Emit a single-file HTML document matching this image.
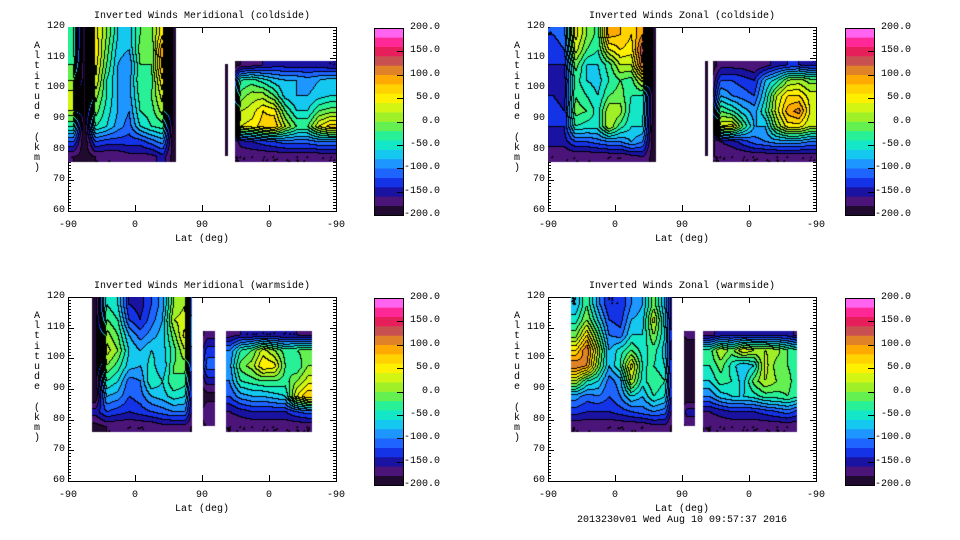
<!DOCTYPE html>
<html><head><meta charset="utf-8"><style>
body{margin:0;background:#fff;width:960px;height:540px;overflow:hidden;position:relative;font-family:"Liberation Mono",monospace;font-size:10px;color:#000}
canvas{position:absolute}
svg{position:absolute;left:0;top:0}
.t{position:absolute;white-space:nowrap}
.yt{position:absolute;width:10px;text-align:center;line-height:10.2px;font-size:10px}
</style></head><body>
<svg id="ax" width="960" height="540"></svg>
<script>
const _=null;
const E=[_,_,_,_,_,_,_,_,_];
const latTicks=["-90","0","90","0","-90"];
const latTickPos=[0,90,180,270,360];
const altTicks=[60,70,80,90,100,110,120];
const cbValues=[200,150,100,50,0,-50,-100,-150,-200];
const cbLabels=["200.0","150.0","100.0","50.0","0.0","-50.0","-100.0","-150.0","-200.0"];
const bandColors=["#200a30","#4a1478","#1a12a0","#1432e6","#1e64ff","#1e96ff","#14c8f0","#14e6c8","#28f096","#64f050","#a0f028","#d2f514","#fff000","#ffd200","#ffaa00","#e08228","#c85050","#e61e5a","#ff2896","#ff64f0"];
// data coverage segments: [orbitStart, orbitEnd, altBottom, altTop]
const meridColdSegs=[[0,145,76,120],[211,215,78,108],[225,360,76,109]];
const zonalColdSegs=[[0,145,76,120],[211,215,78,109],[222,360,76,109]];
const meridWarmSegs=[[32,167,76,120],[181,197,78,109],[212,328,76,109]];
const zonalWarmSegs=[[31,167,76,120],[183,197,78,109],[208,335,76,109]];
// columns: 24 bins of 15 (orbit coord), rows: altitude 75-80 ... 115-120
const meridColdCols=[
[-180,-120,-40,20,30,0,-20,-30,-30],[-190,-200,-200,-200,-200,-200,-200,-200,-200],
[-180,-120,-40,-10,10,40,50,60,50],[-180,-130,-60,-50,-40,-40,-20,-10,0],
[-180,-130,-90,-80,-80,-80,-80,-70,-60],[-170,-130,-110,-100,-90,-90,-100,-80,-70],
[-170,-130,-60,-40,-30,-20,-20,-10,-20],[-170,-110,-40,-30,-20,-30,-20,-20,-10],
[-150,-90,-30,10,30,60,90,100,60],[-190,-200,-200,-200,-200,-200,-200,-200,-200],
E,E,E,E,[_,-200,-200,-200,-200,-200,-200,_,_],
[-180,-150,40,20,-10,-40,-180,_,_],[-180,-140,50,30,10,-30,-170,_,_],
[-180,-130,70,60,10,-50,-160,_,_],[-180,-120,80,50,-20,-70,-150,_,_],
[-180,-110,20,-20,-70,-80,-150,_,_],[-180,-110,-20,-60,-80,-80,-150,_,_],
[-180,-110,-20,-60,-80,-90,-150,_,_],[-180,-100,40,-20,-70,-80,-150,_,_],
[-180,-100,70,-10,-60,-70,-160,_,_]];
const zonalColdCols=[
[-180,-150,-140,-130,-140,-150,-140,-130,-120],[-180,-150,-140,-140,-150,-150,-140,-120,-110],
[-180,-120,-40,-10,-20,-30,-10,30,50],[-180,-120,-50,-20,-40,-60,-60,-20,0],
[-180,-110,-50,-50,-60,-70,-60,-40,-30],[-180,-100,20,20,-20,-40,-30,40,90],
[-180,-100,-30,10,-10,-20,20,60,80],[-170,-80,-60,-50,-40,-30,20,50,60],
[-160,-100,-60,-50,-40,30,120,140,100],[-190,-200,-200,-200,-200,-200,-200,-200,-200],
E,E,E,E,[_,-200,-200,-200,-200,-200,-200,_,_],
[-180,-160,40,-20,-80,-120,-170,_,_],[-180,-150,50,-40,-100,-120,-170,_,_],
[-180,-130,-20,-70,-110,-130,-170,_,_],[-180,-110,-80,-90,-120,-140,-180,_,_],
[-180,-100,-80,-40,-60,-80,-170,_,_],[-180,-90,0,30,20,-50,-150,_,_],
[-180,-90,50,90,60,0,-140,_,_],[-180,-90,50,110,60,10,-140,_,_],
[-180,-100,20,40,30,-10,-150,_,_]];
const meridWarmCols=[
E,E,[-190,-150,-200,-200,-200,-200,-200,-200,-200],
[-180,-120,-80,-40,0,30,10,-20,-40],[-180,-130,-90,-60,-30,0,-20,-40,-60],
[-180,-140,-120,-110,-70,-60,-80,-120,-140],[-180,-130,-110,-100,-80,-80,-110,-140,-150],
[-180,-120,-80,-40,-50,-60,-90,-110,-120],[-170,-110,-70,-60,-80,-70,-70,-80,-90],
[-170,-100,-50,-20,-20,-30,-10,20,0],[-170,-100,-60,-30,-10,20,50,30,20],
[-190,-200,-200,-200,-200,-200,-200,-200,-200],[-180,-160,-190,-150,-110,-130,-170,_,_],
E,[-180,-160,-120,-100,-90,-100,-170,_,_],
[-180,-150,-90,-40,-10,-40,-160,_,_],[-180,-140,-80,-30,10,-20,-160,_,_],
[-180,-140,-80,-20,60,30,-160,_,_],[-180,-140,-70,-20,50,0,-160,_,_],
[-180,-140,-60,-30,-20,-30,-160,_,_],[-180,-120,40,0,-40,-20,-160,_,_],
[-180,-110,80,30,0,-10,-170,_,_],E,E];
const zonalWarmCols=[
E,E,[-180,-130,-90,20,120,60,-10,-50,-80],
[-180,-140,-110,-40,100,120,60,0,-20],[-180,-140,-100,-60,0,20,-20,-60,-90],
[-180,-140,-120,-110,-80,-80,-100,-120,-140],[-180,-130,-100,-90,-40,-50,-110,-130,-140],
[-180,-120,-60,20,50,-20,-60,-80,-100],[-180,-110,-80,-50,-40,-50,-60,-70,-80],
[-170,-100,-40,-20,-40,-30,0,30,-10],[-170,-110,-60,-40,-60,-70,-60,-70,-80],
[-190,-200,-200,-200,-200,-200,-200,-200,-200],[-180,-150,-200,-200,-200,-200,-170,_,_],
E,[-180,-160,-100,-60,-40,-30,-170,_,_],
[-180,-150,-70,-30,-10,20,-150,_,_],[-180,-140,-60,-40,-50,-10,-150,_,_],
[-180,-140,-60,-70,-80,40,-150,_,_],[-180,-140,-50,-10,-60,20,-150,_,_],
[-180,-130,-30,20,30,20,-150,_,_],[-180,-120,-30,0,-10,10,-150,_,_],
[-180,-110,-20,-10,-20,-20,-150,_,_],[-180,-130,-40,-40,-40,-40,-170,_,_],E];

const panels=[
 {x0:68,y0:27,cols:meridColdCols,segs:meridColdSegs,title:"Inverted Winds Meridional (coldside)",cb:374,name:"meridional-coldside"},
 {x0:548,y0:27,cols:zonalColdCols,segs:zonalColdSegs,title:"Inverted Winds Zonal (coldside)",cb:845,name:"zonal-coldside"},
 {x0:68,y0:297,cols:meridWarmCols,segs:meridWarmSegs,title:"Inverted Winds Meridional (warmside)",cb:374,name:"meridional-warmside"},
 {x0:548,y0:297,cols:zonalWarmCols,segs:zonalWarmSegs,title:"Inverted Winds Zonal (warmside)",cb:845,name:"zonal-warmside"}];
const W=268,H=184;
const NS="http://www.w3.org/2000/svg";
const ax=document.getElementById('ax');
function line(x1,y1,x2,y2,name){const l=document.createElementNS(NS,'line');l.setAttribute('x1',x1);l.setAttribute('y1',y1);l.setAttribute('x2',x2);l.setAttribute('y2',y2);l.setAttribute('stroke','#000');l.setAttribute('stroke-width','1');


ax.appendChild(l);}
function txt(x,y,s,align,name){const d=document.createElement('div');d.className='t';d.textContent=s;d.style.top=(y-6)+'px';
if(align==='r'){d.style.right=(960-x)+'px';}else if(align==='c'){d.style.left=x+'px';d.style.transform='translateX(-50%)';}else d.style.left=x+'px';


document.body.appendChild(d);}
function valueAt(cols,segs,t,a){
 let inside=false;
 for(const s of segs){if(t>=s[0]&&t<=s[1]&&a>=s[2]&&a<=s[3]){inside=true;break;}}
 if(!inside)return null;
 const ci=Math.max(0,Math.min(23,Math.floor(t/15))),rj=Math.max(0,Math.min(8,Math.floor((a-75)/5)));
 const fx=t/15-0.5,fy=(a-75)/5-0.5;
 const i0=Math.floor(fx),j0=Math.floor(fy),dx=fx-i0,dy=fy-j0;
 let s=0,ws=0;
 for(const [i,j,w] of [[i0,j0,(1-dx)*(1-dy)],[i0+1,j0,dx*(1-dy)],[i0,j0+1,(1-dx)*dy],[i0+1,j0+1,dx*dy]]){
  const ii=Math.max(0,Math.min(23,i)),jj=Math.max(0,Math.min(8,j));
  const v=cols[ii][jj];if(v===null)continue;s+=v*w;ws+=w;}
 if(ws>0)return s/ws;
 for(let d=1;d<24;d++){for(const k of [ci-d,ci+d]){if(k>=0&&k<24&&cols[k][rj]!==null)return cols[k][rj];}}
 return null;}
panels.forEach(p=>{
 const xS=t=>p.x0+t/360*W, yS=a=>p.y0+(120-a)/60*H;
 const c=document.createElement('canvas');c.width=W;c.height=H;c.style.left=p.x0+'px';c.style.top=p.y0+'px';
 
 
 document.body.appendChild(c);
 const ctx=c.getContext('2d');const img=ctx.createImageData(W,H);
 const band=new Int8Array(W*H).fill(-1);
 for(let py=0;py<H;py++)for(let px=0;px<W;px++){
  const t=(px+0.5)/W*360,a=120-(py+0.5)/H*60;const v=valueAt(p.cols,p.segs,t,a);
  if(v!==null)band[py*W+px]=Math.max(0,Math.min(19,Math.floor((v+200)/20)));}
 for(let py=0;py<H;py++)for(let px=0;px<W;px++){
  const b=band[py*W+px];if(b<0)continue;let col=bandColors[b];
  const r=px+1<W?band[py*W+px+1]:-1,d=py+1<H?band[(py+1)*W+px]:-1;
  if((r>=0&&r!==b)||(d>=0&&d!==b))col="#000000";
  const k=(py*W+px)*4;img.data[k]=parseInt(col.substr(1,2),16);img.data[k+1]=parseInt(col.substr(3,2),16);img.data[k+2]=parseInt(col.substr(5,2),16);img.data[k+3]=255;}
 ctx.putImageData(img,0,0);
 const r=document.createElementNS(NS,'rect');r.setAttribute('x',p.x0+0.5);r.setAttribute('y',p.y0+0.5);r.setAttribute('width',W);r.setAttribute('height',H);r.setAttribute('fill','none');r.setAttribute('stroke','#000');
 
 
 ax.appendChild(r);
 for(let a=60;a<=120;a+=1){const y=Math.round(yS(a))+0.5;const L=(a%10===0)?6:3;line(p.x0,y,p.x0+L,y,'y-tick');line(p.x0+W-L,y,p.x0+W,y,'y-tick');}
 altTicks.forEach(a=>txt(p.x0-3,yS(a),String(a),'r','y-tick-label'));
 latTicks.forEach((s,i)=>{const x=Math.round(xS(latTickPos[i]))+0.5;line(x,p.y0+H,x,p.y0+H-6,'x-tick');line(x,p.y0,x,p.y0+6,'x-tick');txt(xS(latTickPos[i]),p.y0+H+15,s,'c','x-tick-label');});
 txt(p.x0+W/2,p.y0+H+29,"Lat (deg)",'c','x-axis-title');
 txt(p.x0+W/2,p.y0-10,p.title,'c','chart-title');
 const yt=document.createElement('div');yt.className='yt';yt.style.left=(p.x0-36)+'px';yt.style.top=(p.y0+15)+'px';
 yt.innerHTML="Altitude (km)".split('').map(ch=>ch===' '?'&nbsp;':ch).join('<br>');
 
 
 document.body.appendChild(yt);
 const cy0=p.y0+1,ch=187,bh=ch/20;
 bandColors.forEach((col,i)=>{const b=document.createElementNS(NS,'rect');b.setAttribute('x',p.cb);b.setAttribute('y',(cy0+ch-(i+1)*bh).toFixed(2));b.setAttribute('width',29);b.setAttribute('height',(bh+0.3).toFixed(2));b.setAttribute('fill',col);
 
 
 ax.appendChild(b);});
 const cr=document.createElementNS(NS,'rect');cr.setAttribute('x',p.cb+0.5);cr.setAttribute('y',cy0+0.5);cr.setAttribute('width',29);cr.setAttribute('height',ch);cr.setAttribute('fill','none');cr.setAttribute('stroke','#000');
 
 
 ax.appendChild(cr);
 cbValues.forEach((v,i)=>{const y=cy0+(200-v)/400*ch;line(p.cb+23,Math.round(y)+0.5,p.cb+29,Math.round(y)+0.5,'colorbar-tick');txt(p.cb+66,y,cbLabels[i],'r','colorbar-label');});
});
txt(682,521,"2013230v01 Wed Aug 10 09:57:37 2016",'c','timestamp-footer');
</script>
</body></html>
